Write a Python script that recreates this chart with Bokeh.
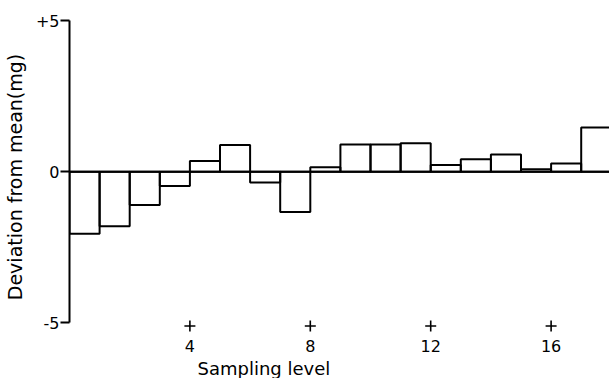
from bokeh.plotting import figure
from bokeh.models import Range1d, LinearAxis, FixedTicker, Span, Title, ColumnDataSource
from bokeh.embed import file_html
from bokeh.resources import INLINE

# Data
levels = list(range(1, 19))
deviation = [-2.05, -1.8, -1.1, -0.47, 0.35, 0.88, -0.36, -1.33, 0.15,
             0.9, 0.9, 0.94, 0.22, 0.41, 0.57, 0.08, 0.27, 1.46]
x_ticks = [4, 8, 12, 16]
x_tick_labels = {4: "4", 8: "8", 12: "12", 16: "16"}
y_ticks = [-5, 0, 5]
y_tick_labels = {-5: "-5", 0: "0", 5: "+5"}

FONT = "DejaVu Sans"

src = ColumnDataSource(dict(
    left=[l - 1 for l in levels],
    right=levels,
    top=[max(v, 0) for v in deviation],
    bottom=[min(v, 0) for v in deviation],
))

p = figure(frame_width=540, frame_height=313,
           output_backend="svg", toolbar_location=None,
           x_range=Range1d(0, 17.94), y_range=Range1d(-5.35, 5.0),
           x_axis_location=None, y_axis_location=None,
           min_border_left=62, min_border_right=0,
           min_border_top=20, min_border_bottom=45)
p.outline_line_color = None
p.xgrid.visible = False
p.ygrid.visible = False
p.background_fill_color = "white"
p.border_fill_color = "white"

p.quad(left="left", right="right", top="top", bottom="bottom", source=src,
       fill_color=None, line_color="black", line_width=2)

p.add_layout(Span(location=0, dimension="width", line_color="black", line_width=2))

# "+" tick marks under the sampling levels
p.scatter(x=x_ticks, y=[-5.1] * len(x_ticks), marker="cross", size=11,
          line_color="black", line_width=1.6)

yaxis = LinearAxis(ticker=FixedTicker(ticks=y_ticks), bounds=(-5, 5),
                   major_label_overrides=y_tick_labels,
                   axis_label="Deviation from mean(mg)",
                   axis_line_width=2, axis_line_color="black",
                   major_tick_line_width=2, major_tick_line_color="black",
                   major_tick_out=9, major_tick_in=0,
                   minor_tick_line_color=None,
                   major_label_standoff=1,
                   major_label_text_font=FONT, major_label_text_font_size="16px",
                   major_label_text_color="black",
                   axis_label_text_font=FONT, axis_label_text_font_size="19px",
                   axis_label_text_font_style="normal",
                   axis_label_text_color="black",
                   axis_label_standoff=7)
p.add_layout(yaxis, "left")

xaxis = LinearAxis(ticker=FixedTicker(ticks=x_ticks),
                   major_label_overrides=x_tick_labels,
                   axis_line_color=None, major_tick_line_color=None,
                   minor_tick_line_color=None,
                   major_tick_out=0, major_tick_in=0,
                   major_label_standoff=6,
                   major_label_text_font=FONT, major_label_text_font_size="16px",
                   major_label_text_color="black")
p.add_layout(xaxis, "below")

p.add_layout(Title(text="Sampling level", align="left", offset=128,
                   text_font=FONT, text_font_size="18px",
                   text_font_style="normal", text_color="black",
                   standoff=2), "below")

open("out.html", "w").write(file_html(p, INLINE))
